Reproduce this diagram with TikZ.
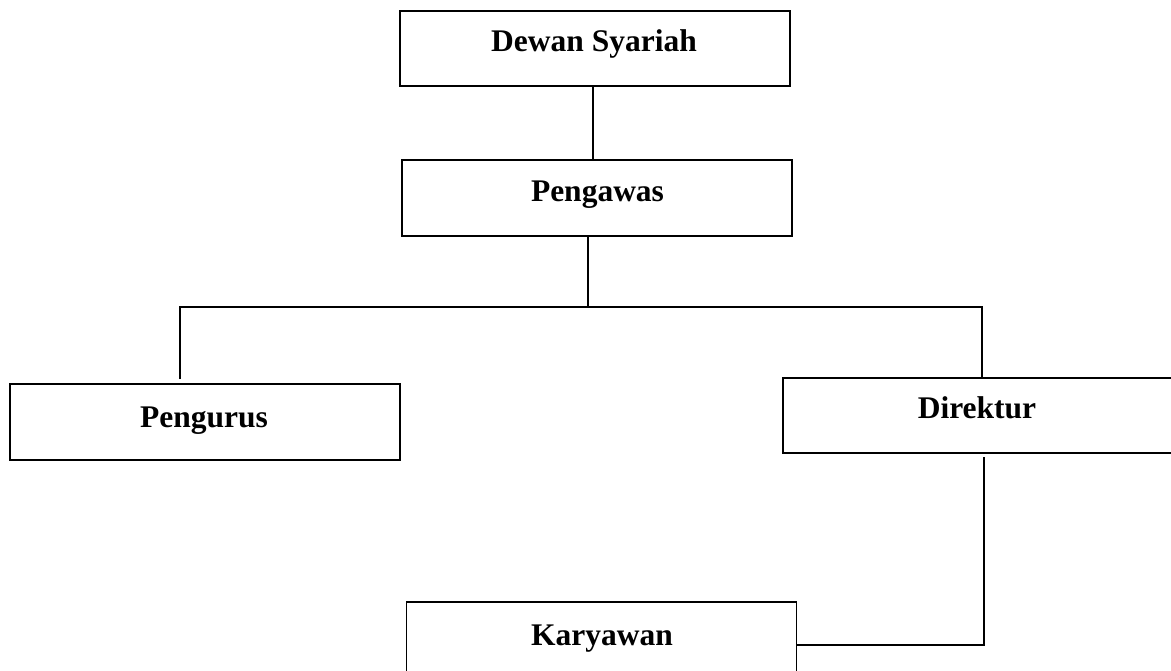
\documentclass[tikz,border=0pt]{standalone}
\usepackage{fontspec}
\setmainfont{Liberation Serif}
\begin{document}
\begin{tikzpicture}[x=1pt,y=-1pt,
  orgbox/.style={draw, line width=1.9pt, rectangle, minimum width=390pt, minimum height=76pt, inner sep=0pt, outer sep=0pt},
  lbl/.style={anchor=base, inner sep=0pt, font=\fontsize{31.5}{36}\selectfont\bfseries},
  conn/.style={line width=1.3pt}]
\useasboundingbox (0,0) rectangle (1171,671);
\clip (0,0) rectangle (1171,671);
% boxes
\node[orgbox, minimum height=75pt] (dewan) at (595,48.5) {};
\node[orgbox] (pengawas) at (597,198) {};
\node[orgbox] (pengurus) at (205,422) {};
\node[orgbox, minimum height=75pt] (direktur) at (978,415.5) {};
\node[orgbox] (karyawan) at (601.5,640) {};
% labels
\node[lbl] (tdewan) at (594,52) {Dewan Syariah};
\node[lbl] (tpengawas) at (597.5,202) {Pengawas};
\node[lbl] (tpengurus) at (204,427) {Pengurus};
\node[lbl] (tdirektur) at (977,418) {Direktur};
\node[lbl] (tkaryawan) at (602,645) {Karyawan};
% connectors
\draw[conn] (dewan.south -| 593,0) -- (pengawas.north -| 593,0);
\coordinate (split) at (588,307);
\coordinate (lefttop) at (180,307);
\coordinate (righttop) at (982,307);
\coordinate (leftend) at (180,379);
\draw[conn] (pengawas.south -| split) -- (split);
\draw[conn] (leftend) -- (lefttop) -- (righttop) -- (direktur.north -| righttop);
\coordinate (dstart) at (984,457);
\coordinate (dcorner) at (984,645);
\draw[conn] (dstart) -- (dcorner) -- (karyawan.east |- dcorner);
\end{tikzpicture}
\end{document}
